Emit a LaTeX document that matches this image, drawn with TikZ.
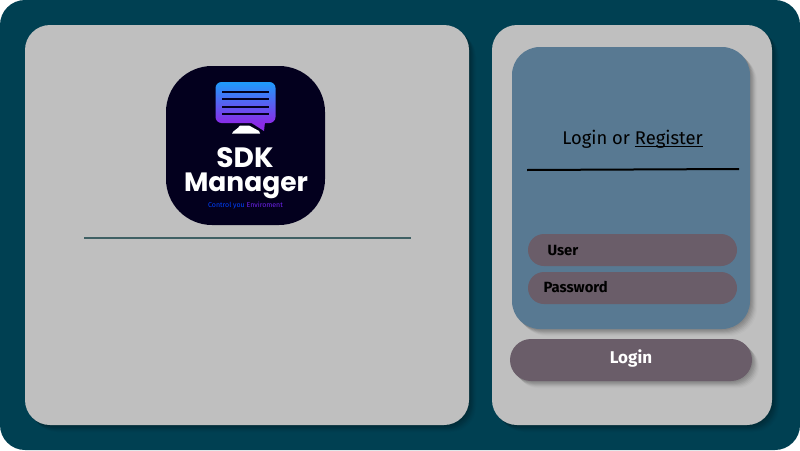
\documentclass[tikz,border=0pt]{standalone}
\usepackage{fontspec}
\setmainfont{Fira Sans}
\newfontfamily\logofont{Poppins}
\usetikzlibrary{shadows}
\definecolor{tealbg}{HTML}{004052}
\definecolor{panelgray}{HTML}{BFBFBF}
\definecolor{cardblue}{HTML}{587992}
\definecolor{pillgray}{HTML}{6A5D69}
\definecolor{logonavy}{HTML}{03001E}
\definecolor{ruleteal}{HTML}{3F6064}
\definecolor{bubbletop}{HTML}{1E9BFB}
\definecolor{bubblelow}{HTML}{8A2BE8}
\newcommand{\lineunder}[1]{\setbox0=\hbox{#1}\rlap{\rule[-2pt]{\wd0}{1.1pt}}\box0}
\tikzset{
  softshadow/.style={
    drop shadow={shadow xshift=1pt,shadow yshift=-1pt,opacity=.06,fill=black},
    drop shadow={shadow xshift=2pt,shadow yshift=-2pt,opacity=.06,fill=black},
    drop shadow={shadow xshift=3pt,shadow yshift=-3pt,opacity=.06,fill=black},
    drop shadow={shadow xshift=4pt,shadow yshift=-4pt,opacity=.05,fill=black},
    drop shadow={shadow xshift=5pt,shadow yshift=-5pt,opacity=.04,fill=black},
    drop shadow={shadow xshift=6pt,shadow yshift=-6pt,opacity=.03,fill=black},
    drop shadow={shadow xshift=7pt,shadow yshift=-7pt,opacity=.02,fill=black}},
  box/.style={rectangle,inner sep=0pt,outer sep=0pt},
  panel/.style={box,fill=panelgray,minimum width=#1,minimum height=400pt,rounded corners=25pt,softshadow},
  pill/.style={box,fill=pillgray,minimum width=209pt,minimum height=32pt,rounded corners=16pt},
  label/.style={font=\fontsize{14.8}{15}\selectfont\bfseries,text=black},
  logotext/.style={font=\logofont\fontsize{#1}{#1}\selectfont\bfseries,text=white}
}
\begin{document}
\begin{tikzpicture}[x=1pt,y=-1pt]
  \useasboundingbox (0,0) rectangle (800,450);
  \fill[tealbg,rounded corners=25pt] (0,0) rectangle (800,450);
  % panels
  \node [panel=444pt] (left) at (247,225) {};
  \node [panel=280pt] (right) at (632,225) {};
  % logo
  \node [box,fill=logonavy,minimum size=159pt,rounded corners=46pt] (logo) at (245.5,145.5) {};
  \coordinate (tailA) at (250,122);
  \coordinate (tailB) at (265,122);
  \coordinate (tailC) at (264,131);
  \fill[bubblelow] (tailA) -- (tailB) -- (tailC) -- cycle;
  \node [box,top color=bubbletop,bottom color=bubblelow,minimum width=60pt,minimum height=41pt,rounded corners=6pt] (bubble) at (245.5,102.5) {};
  \foreach \y in {92,99,107,114}
    \draw[logonavy,line width=1.3pt] (222,\y) -- (269,\y);
  \fill[white] (232,133.5) .. controls (233,130.5) and (238,129) .. (240,125.5) -- (249,125.5) -- (259,131) -- (260,133.5) -- cycle;
  \node [logotext=28] (sdk) at (245,157.5) {SDK};
  \node [logotext=26.5] (manager) at (246,186) {Manager};
  \node [font=\fontsize{7}{7}\selectfont] (tag) at (245.5,206) {\textcolor{blue!75!cyan}{Control you} \textcolor{bubblelow!80!blue}{Enviroment}};
  % rule under the logo
  \coordinate (ruleL) at (84,238);
  \coordinate (ruleR) at (411,238);
  \draw[ruleteal,line width=1.5pt] (ruleL) -- (ruleR);
  % login card
  \node [box,fill=cardblue,minimum width=238pt,minimum height=282pt,rounded corners=28pt,softshadow] (card) at (631,188) {};
  \node [font=\fontsize{18.4}{19}\selectfont,text=black] (title) at (632.5,139.5) {Login or \lineunder{Register}};
  \coordinate (lineL) at (527,170);
  \coordinate (lineR) at (739,169);
  \draw[black,line width=2pt] (lineL) -- (lineR);
  \node [pill] (user) at (632.5,250) {};
  \node [pill] (password) at (632.5,288) {};
  \node [label,anchor=west] (userlbl) at (544,250) {User};
  \node [label,anchor=west] (passlbl) at (540,287) {Password};
  \node [box,fill=pillgray,minimum width=242pt,minimum height=42pt,rounded corners=21pt,softshadow,text=white,font=\fontsize{17}{17}\selectfont\bfseries] (login) at (631,360) {\raisebox{6pt}{Login}};
\end{tikzpicture}
\end{document}
